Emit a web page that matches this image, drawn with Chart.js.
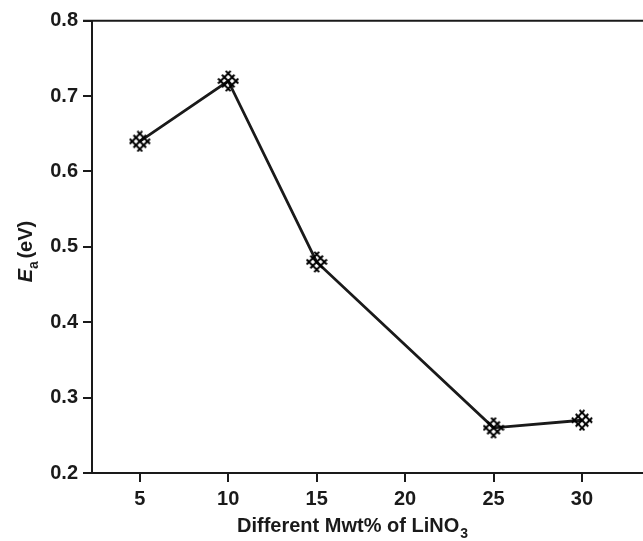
<!DOCTYPE html>
<html>
<head>
<meta charset="utf-8">
<script src="https://cdn.jsdelivr.net/npm/chart.js@4/dist/chart.umd.min.js"></script>
<style>
  html, body { margin: 0; padding: 0; background: #fff; }
  #wrap { width: 643px; height: 541px; }
</style>
</head>
<body>
<div id="wrap"><canvas id="chart" width="643" height="541"></canvas></div>
<script>
// Data
const mwtPercent = [5, 10, 15, 25, 30];
const activationEnergy = [0.64, 0.72, 0.48, 0.26, 0.27];
const xTickValues = [5, 10, 15, 20, 25, 30];
const yTickValues = [0.2, 0.3, 0.4, 0.5, 0.6, 0.7, 0.8];

const FONT = '"Liberation Sans", Arial, sans-serif';
const INK = '#1a1a1a';

// Function: build the cross-hatched diamond marker
const makeMarker = () => {
  const size = 22;
  const c = document.createElement('canvas');
  c.width = size;
  c.height = size;
  const ctx = c.getContext('2d');
  const m = size / 2;
  const a = 5.4, b = 8.9;
  const s = Math.SQRT1_2;
  ctx.strokeStyle = '#000';
  ctx.lineWidth = 2;
  ctx.lineCap = 'butt';
  [-a, 0, a].forEach(off => {
    ctx.beginPath();
    ctx.moveTo(m + (-b + off) * s, m + (-b - off) * s);
    ctx.lineTo(m + (b + off) * s, m + (b - off) * s);
    ctx.stroke();
    ctx.beginPath();
    ctx.moveTo(m + (-b + off) * s, m + (b + off) * s);
    ctx.lineTo(m + (b + off) * s, m + (-b + off) * s);
    ctx.stroke();
  });
  return c;
};

// Plugin: frame lines, tick extensions and rich axis titles
const framePlugin = {
  id: 'frame',
  afterDraw(chart) {
    const { ctx, chartArea } = chart;
    const { left, right, top, bottom } = chartArea;
    ctx.save();
    ctx.strokeStyle = INK;
    ctx.lineWidth = 2;
    ctx.beginPath();
    ctx.moveTo(left - 9, top);
    ctx.lineTo(right, top);
    ctx.moveTo(left - 9, bottom);
    ctx.lineTo(left, bottom);
    ctx.stroke();

    ctx.fillStyle = INK;
    // x title
    const main = 'Different Mwt% of LiNO';
    ctx.font = 'bold 20px ' + FONT;
    const w1 = ctx.measureText(main).width;
    ctx.font = 'bold 14px ' + FONT;
    const w2 = ctx.measureText('3').width;
    const x0 = 352 - (w1 + w2) / 2;
    const yb = 532;
    ctx.textBaseline = 'alphabetic';
    ctx.textAlign = 'left';
    ctx.font = 'bold 20px ' + FONT;
    ctx.fillText(main, x0, yb);
    ctx.font = 'bold 14px ' + FONT;
    ctx.fillText('3', x0 + w1 + 1, yb + 6);

    // y title
    ctx.translate(32, 250);
    ctx.rotate(-Math.PI / 2);
    ctx.font = 'italic bold 20px ' + FONT;
    const e = ctx.measureText('E').width;
    ctx.font = 'bold 14px ' + FONT;
    const sa = ctx.measureText('a').width;
    ctx.font = 'bold 20px ' + FONT;
    const rest = ' (eV)';
    const r = ctx.measureText(rest).width;
    const sx = -(e + sa + r) / 2;
    ctx.font = 'italic bold 20px ' + FONT;
    ctx.fillText('E', sx, 0);
    ctx.font = 'bold 14px ' + FONT;
    ctx.fillText('a', sx + e, 6);
    ctx.font = 'bold 20px ' + FONT;
    ctx.fillText(rest, sx + e + sa - 3, 0);
    ctx.restore();
  }
};

document.addEventListener('DOMContentLoaded', () => {
  const canvas = document.getElementById('chart');
  const marker = makeMarker();

  new Chart(canvas, {
    type: 'line',
    data: {
      datasets: [{
        data: mwtPercent.map((x, i) => ({ x: x, y: activationEnergy[i] })),
        borderColor: INK,
        borderWidth: 2.8,
        pointStyle: marker,
        pointRadius: 9,
        pointHoverRadius: 9,
        tension: 0,
        fill: false
      }]
    },
    options: {
      responsive: false,
      animation: false,
      events: [],
      layout: { autoPadding: false, padding: { top: 20.7, right: 0, left: 0, bottom: 0 } },
      plugins: {
        legend: { display: false },
        tooltip: { enabled: false }
      },
      scales: {
        x: {
          type: 'linear',
          min: 2.3,
          max: 33.45,
          afterBuildTicks: (scale) => { scale.ticks = xTickValues.map(v => ({ value: v })); },
          afterFit: (scale) => { scale.height = 68; },
          border: { color: INK, width: 2 },
          grid: { drawOnChartArea: false, drawTicks: true, tickLength: 9, color: INK, lineWidth: 2 },
          ticks: { color: INK, font: { family: FONT, size: 20, weight: 'bold' }, padding: 5, maxRotation: 0 }
        },
        y: {
          min: 0.2,
          max: 0.8,
          afterBuildTicks: (scale) => { scale.ticks = yTickValues.map(v => ({ value: v })); },
          afterFit: (scale) => { scale.width = 92; },
          border: { color: INK, width: 2 },
          grid: { drawOnChartArea: false, drawTicks: true, tickLength: 9, color: INK, lineWidth: 2 },
          ticks: {
            color: INK,
            font: { family: FONT, size: 20, weight: 'bold' },
            padding: 5,
            callback: (v) => Number(v).toFixed(1)
          }
        }
      }
    },
    plugins: [framePlugin]
  });
});
</script>
</body>
</html>
